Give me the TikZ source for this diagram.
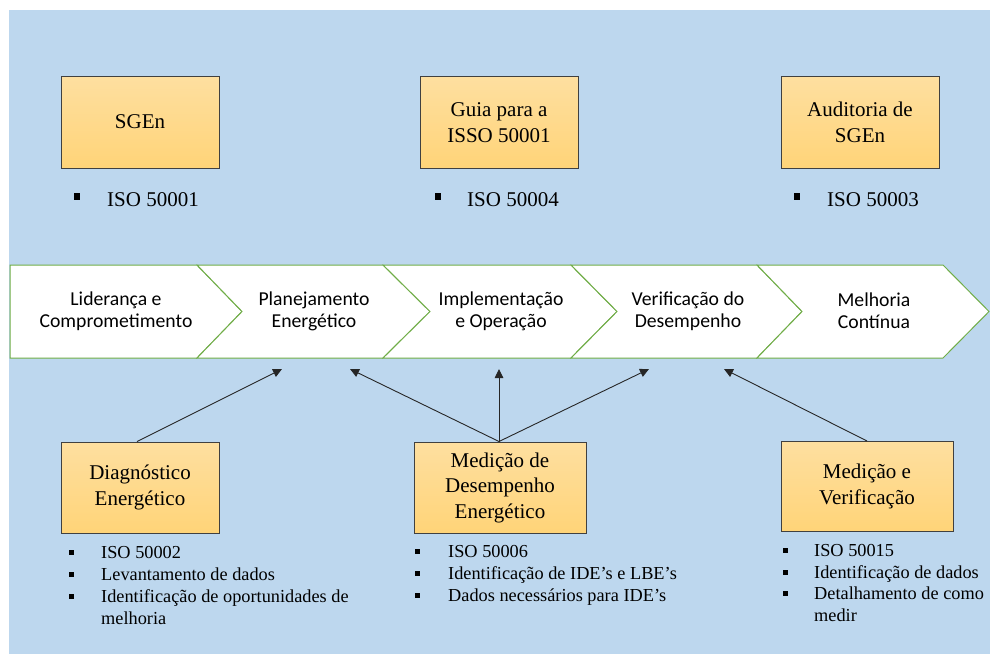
\documentclass[tikz,border=0pt]{standalone}
\usepackage{fontspec}
\setmainfont{Liberation Serif}
\newfontfamily\chevfont{Carlito}
\usetikzlibrary{arrows.meta,calc}

\definecolor{bgblue}{RGB}{189,215,238}
\definecolor{chevgreen}{RGB}{112,173,71}
\definecolor{boxtop}{RGB}{254,223,160}
\definecolor{boxbot}{RGB}{255,212,120}
\definecolor{boxline}{RGB}{64,64,64}

\tikzset{
  normbox/.style={rectangle, draw=boxline, line width=1pt, top color=boxtop,
    bottom color=boxbot, inner sep=0pt, align=center,
    font=\fontsize{21}{25.5}\selectfont},
  chevshape/.style={draw=chevgreen, line width=1pt, fill=white, line join=miter},
  chevtext/.style={align=center, inner sep=0pt,
    font=\chevfont\fontsize{19.7}{22}\selectfont},
  link/.style={draw=black!85, line width=0.9pt,
    -{Triangle[length=9pt,width=8.5pt]}},
  itemtext/.style={anchor=base west, inner sep=0pt,
    font=\fontsize{18.3}{22}\selectfont},
  toptext/.style={anchor=base west, inner sep=0pt,
    font=\fontsize{21}{25}\selectfont},
}

\begin{document}
\begin{tikzpicture}[x=1pt,y=-1pt]
  \useasboundingbox (0,0) rectangle (990,654);
  \fill[white] (0,0) rectangle (990,654);
  \fill[bgblue] (9,10) rectangle (990,654);

  % ---- top standards ----
  \node[normbox, minimum width=158pt, minimum height=92pt] (sgen) at (140,122) {SGEn};
  \node[normbox, minimum width=158pt, minimum height=92pt] (guia) at (499,122.5) {Guia para a\\ISSO 50001};
  \node[normbox, minimum width=158pt, minimum height=92pt] (audit) at (860,122.5) {Auditoria de\\SGEn};

  \foreach \bx in {77,437.5,796.5} \fill (\bx-3,193) rectangle (\bx+3,199.5);
  \node[toptext] (t1) at (107,206) {ISO 50001};
  \node[toptext] (t2) at (467,206) {ISO 50004};
  \node[toptext] (t3) at (827,206) {ISO 50003};

  % ---- process chevrons ----
  \draw[chevshape] (10,265) -- (197,265) -- (242,311.5) -- (197,358) -- (10,358) -- cycle;
  \draw[chevshape] (197,265) -- (383,265) -- (430,311.5) -- (383,358) -- (197,358) -- (242,311.5) -- cycle;
  \draw[chevshape] (383,265) -- (571,265) -- (617,311.5) -- (571,358) -- (383,358) -- (430,311.5) -- cycle;
  \draw[chevshape] (571,265) -- (757,265) -- (802,311.5) -- (757,358) -- (571,358) -- (617,311.5) -- cycle;
  \draw[chevshape] (757,265) -- (943,265) -- (989,311.5) -- (943,358) -- (757,358) -- (802,311.5) -- cycle;

  \node[chevtext] (c1) at (116,311) {Liderança e\\Comprometimento};
  \node[chevtext] (c2) at (314,311) {Planejamento\\Energético};
  \node[chevtext] (c3) at (501,311) {Implementação\\e Operação};
  \node[chevtext] (c4) at (688,311) {Verificação do\\Desempenho};
  \node[chevtext] (c5) at (874,311) {Melhoria\\Contínua};

  % ---- bottom tools ----
  \node[normbox, minimum width=158pt, minimum height=91pt] (diag) at (140,487.5) {Diagnóstico\\Energético};
  \node[normbox, minimum width=172pt, minimum height=91pt] (mde) at (500,487.5) {Medição de\\Desempenho\\Energético};
  \node[normbox, minimum width=172pt, minimum height=90pt] (mv) at (867,486.5) {Medição e\\Verificação};

  % arrow targets just below the chevron band
  \coordinate (a1) at (282,369);
  \coordinate (a2) at (350,369);
  \coordinate (a3) at (499,369);
  \coordinate (a4) at (649,369);
  \coordinate (a5) at (724,369);

  \draw[link] ($(diag.north)+(-3,0)$) -- (a1);
  \draw[link] ($(mde.north)+(-1,0)$) -- (a2);
  \draw[link] ($(mde.north)+(-1,0)$) -- (a3);
  \draw[link] ($(mde.north)+(-1,0)$) -- (a4);
  \draw[link] (mv.north) -- (a5);

  % ---- bullet lists ----
  \foreach \by in {558,580,602} \fill (68.5,\by-8.5) rectangle (73.5,\by-3.5);
  \node[itemtext] (d1) at (101,558) {ISO 50002};
  \node[itemtext] (d2) at (101,580) {Levantamento de dados};
  \node[itemtext] (d3) at (101,602) {Identificação de oportunidades de};
  \node[itemtext] (d4) at (101,624) {melhoria};

  \foreach \by in {557,579,601} \fill (415,\by-8.5) rectangle (420,\by-3.5);
  \node[itemtext] (m1) at (448,557) {ISO 50006};
  \node[itemtext] (m2) at (448,579) {Identificação de IDE’s e LBE’s};
  \node[itemtext] (m3) at (448,601) {Dados necessários para IDE’s};

  \foreach \by in {556,578,599.5} \fill (782.5,\by-8.5) rectangle (787.5,\by-3.5);
  \node[itemtext] (v1) at (814,556) {ISO 50015};
  \node[itemtext] (v2) at (814,578) {Identificação de dados};
  \node[itemtext] (v3) at (814,599.5) {Detalhamento de como};
  \node[itemtext] (v4) at (814,621.5) {medir};
\end{tikzpicture}
\end{document}
